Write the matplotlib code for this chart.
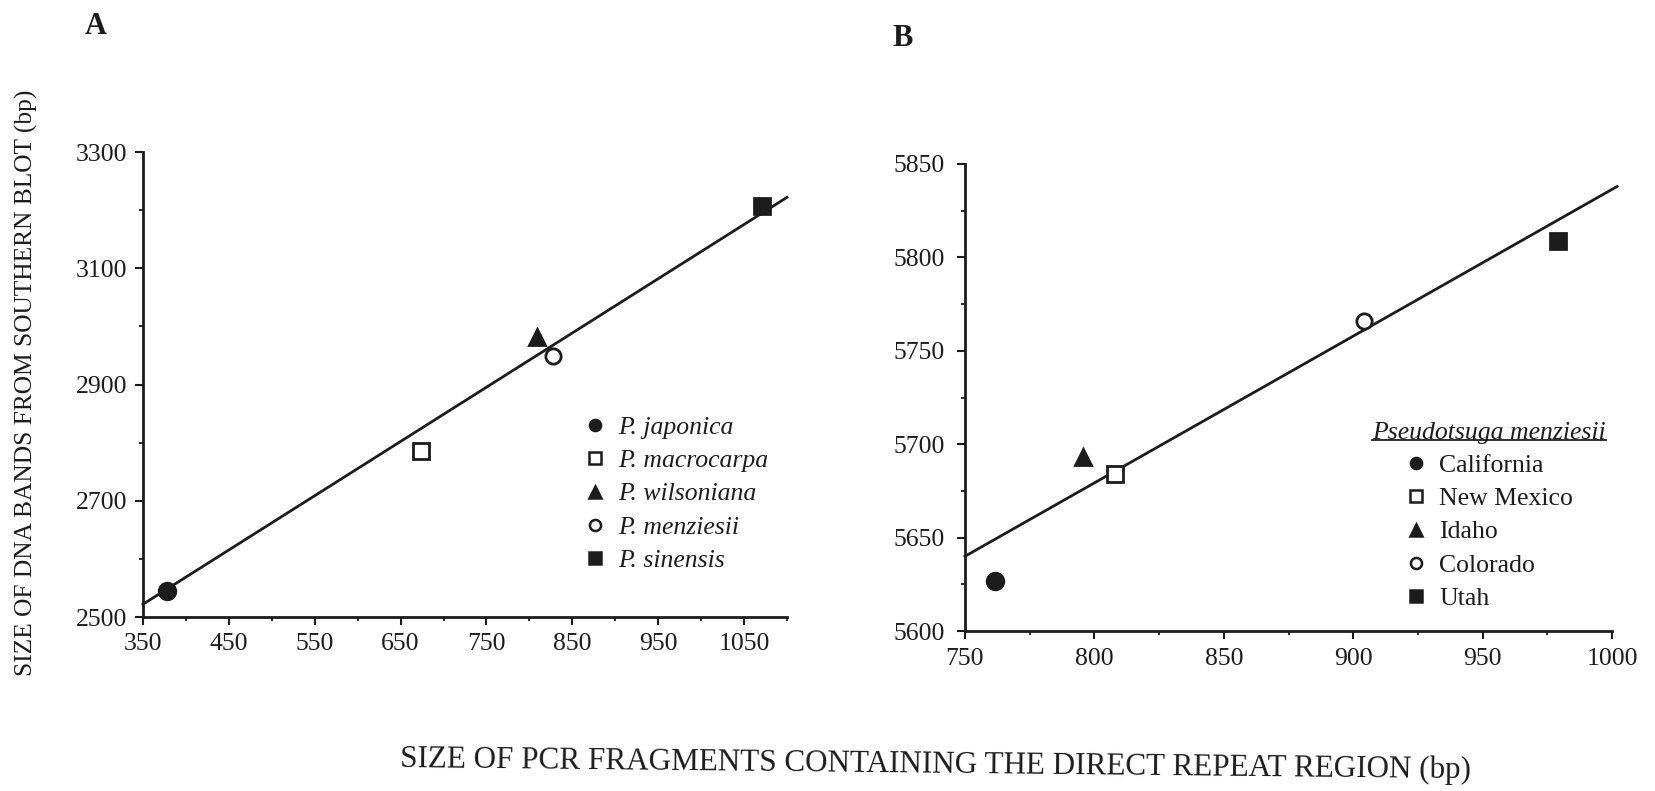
import matplotlib
matplotlib.use("Agg")
import matplotlib.pyplot as plt
from matplotlib.lines import Line2D
from matplotlib.ticker import MultipleLocator

plt.rcParams['font.family'] = ['Liberation Serif', 'DejaVu Serif']

# ---------------- data ----------------
# Panel A
a_labels = ["P. japonica", "P. macrocarpa", "P. wilsoniana", "P. menziesii", "P. sinensis"]
a_x = [378, 674, 809, 827, 1071]
a_y = [2544, 2785, 2982, 2949, 3207]
a_fit_x = [350, 1100]
a_fit_y = [2522, 3222]

# Panel B
b_labels = ["California", "New Mexico", "Idaho", "Colorado", "Utah"]
b_x = [761.5, 808, 795.5, 904, 979]
b_y = [5627, 5684, 5693, 5766, 5809]
b_fit_x = [750, 1002]
b_fit_y = [5640, 5838]

a_xticks = [350, 450, 550, 650, 750, 850, 950, 1050]
a_yticks = [2500, 2700, 2900, 3100, 3300]
b_xticks = [750, 800, 850, 900, 950, 1000]
b_yticks = [5600, 5650, 5700, 5750, 5800, 5850]

markers = ['o', 's', '^', 'o', 's']
filled = [True, False, True, False, True]
msizes = [12, 11, 11, 11, 11]
ink = '#1c1c1c'

W, H = 1656, 791
fig = plt.figure(figsize=(W / 100, H / 100), dpi=100)


def px_axes(left, right, top, bottom):
    return fig.add_axes([left / W, 1 - bottom / H, (right - left) / W, (bottom - top) / H])


axA = px_axes(143, 787, 152, 617)
axB = px_axes(965, 1612, 164, 631)


def style(ax, xpad, ypad):
    for s in ['top', 'right']:
        ax.spines[s].set_visible(False)
    for s in ['left', 'bottom']:
        ax.spines[s].set_linewidth(2.0)
        ax.spines[s].set_color(ink)
    ax.tick_params(axis='both', which='major', direction='out', length=5.5,
                   width=1.5, color=ink, labelsize=18.5, labelcolor=ink)
    ax.tick_params(axis='both', which='minor', direction='out', length=3,
                   width=1.3, color=ink)
    ax.tick_params(axis='x', which='major', pad=xpad)
    ax.tick_params(axis='y', which='major', pad=ypad)


def draw(ax, xs, ys, labels, fx, fy):
    ax.plot(fx, fy, color=ink, lw=2.0, zorder=2, clip_on=False)
    handles = []
    for x, y, lab, m, f, ms in zip(xs, ys, labels, markers, filled, msizes):
        fc = ink if f else 'white'
        ax.plot([x], [y], linestyle='none', marker=m, markersize=ms,
                markerfacecolor=fc, markeredgecolor=ink, markeredgewidth=2,
                zorder=3, clip_on=False)
        handles.append(Line2D([], [], linestyle='none', marker=m, markersize=8,
                              markerfacecolor=fc, markeredgecolor=ink,
                              markeredgewidth=1.8, label=lab))
    return handles


# Panel A
hA = draw(axA, a_x, a_y, a_labels, a_fit_x, a_fit_y)
axA.set_xlim(350, 1100)
axA.set_ylim(2500, 3300)
axA.set_xticks(a_xticks)
axA.set_yticks(a_yticks)
axA.xaxis.set_minor_locator(MultipleLocator(50))
axA.yaxis.set_minor_locator(MultipleLocator(100))
style(axA, 6, 6)

# Panel B
hB = draw(axB, b_x, b_y, b_labels, b_fit_x, b_fit_y)
axB.set_xlim(750, 1000)
axB.set_ylim(5600, 5850)
axB.set_xticks(b_xticks)
axB.set_yticks(b_yticks)
axB.xaxis.set_minor_locator(MultipleLocator(25))
axB.yaxis.set_minor_locator(MultipleLocator(25))
style(axB, 7, 9)


def make_legend(ax, handles, ls, anchor, fs, italic, title=None):
    kw = {}
    if title:
        kw = dict(title=title, title_fontproperties={'family': 'Liberation Serif',
                                                     'style': 'italic', 'size': fs})
    leg = ax.legend(handles=handles, loc='upper left', bbox_to_anchor=anchor,
                    bbox_transform=fig.transFigure, frameon=False,
                    handlelength=0.8, handletextpad=0.5, labelspacing=ls,
                    borderpad=0, borderaxespad=0,
                    prop={'family': 'Liberation Serif',
                          'style': 'italic' if italic else 'normal', 'size': fs},
                    **kw)
    for t in leg.get_texts():
        t.set_color(ink)
    if title:
        leg.get_title().set_color(ink)
    return leg


def placed_legend(ax, handles, fs, italic, text_left, first_c, last_c, title=None):
    """Build a legend whose rows sit at the given pixel positions (from top)."""
    ls = 0.4
    anchor = [text_left / W, 1 - (first_c - 20) / H]
    leg = None
    for _ in range(4):
        leg = make_legend(ax, handles, ls, tuple(anchor), fs, italic, title)
        fig.canvas.draw()
        ex = [t.get_window_extent() for t in leg.get_texts()]
        c0 = H - (ex[0].y0 + ex[0].y1) / 2
        cN = H - (ex[-1].y0 + ex[-1].y1) / 2
        n = len(ex) - 1
        spacing = (cN - c0) / n
        ls += ((last_c - first_c) / n - spacing) / (fs * 100 / 72)
        anchor[0] += (text_left - ex[0].x0) / W
        anchor[1] -= (first_c - c0) / H
    return leg


legA = placed_legend(axA, hA, 18.5, True, 618, 428, 561)
legB = placed_legend(axB, hB, 18.5, False, 1439, 466, 599,
                     title='Pseudotsuga menziesii')

# Axis titles and panel letters
fig.text(26 / W, 1 - 383 / H, 'SIZE OF DNA BANDS FROM SOUTHERN BLOT (bp)', rotation=90,
         ha='center', va='center', fontsize=18.3, color=ink)
fig.text(936 / W, 1 - 765 / H,
         'SIZE OF PCR FRAGMENTS CONTAINING THE DIRECT REPEAT REGION (bp)',
         ha='center', va='center', fontsize=22.4, color=ink, rotation=-0.6,
         rotation_mode='anchor')
fig.text(96 / W, 1 - 26 / H, 'A', ha='center', va='center', fontsize=22,
         fontweight='bold', color=ink)
fig.text(903 / W, 1 - 38 / H, 'B', ha='center', va='center', fontsize=22,
         fontweight='bold', color=ink)

# underline the legend title of panel B
fig.canvas.draw()
bb = legB.get_title().get_window_extent(fig.canvas.get_renderer())
inv = fig.transFigure.inverted()
(x0, y0), (x1, y1) = inv.transform([(bb.x0, bb.y0 + 4), (bb.x1, bb.y0 + 4)])
fig.add_artist(Line2D([x0, x1], [y0, y1], color=ink, lw=1.3, transform=fig.transFigure))

fig.savefig('out.png', dpi=100, facecolor='white')
